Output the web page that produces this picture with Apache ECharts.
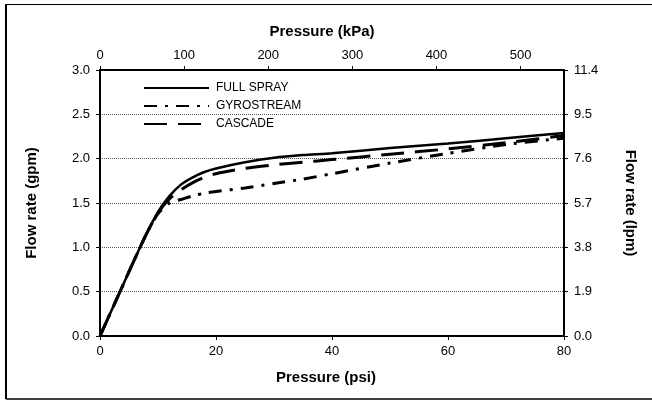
<!DOCTYPE html>
<html>
<head>
<meta charset="utf-8">
<script src="https://cdn.jsdelivr.net/npm/echarts@6/dist/echarts.min.js"></script>
<style>
html,body{margin:0;padding:0;background:#fff;}
#c{width:652px;height:400px;}
</style>
</head>
<body>
<div id="c"></div>
<script>
var psi = [0, 2, 4, 6, 8, 10, 12, 14, 16, 18, 20, 25, 30, 35, 40, 50, 60, 70, 80];
var fullSpray = [0, 0.29, 0.58, 0.87, 1.15, 1.40, 1.58, 1.71, 1.79, 1.85, 1.89, 1.96, 2.01, 2.04, 2.06, 2.12, 2.17, 2.23, 2.29];
var gyrostream = [0, 0.29, 0.58, 0.87, 1.15, 1.38, 1.50, 1.54, 1.58, 1.61, 1.63, 1.67, 1.72, 1.77, 1.83, 1.95, 2.06, 2.16, 2.23];
var cascade = [0, 0.29, 0.58, 0.87, 1.15, 1.39, 1.55, 1.65, 1.73, 1.79, 1.83, 1.89, 1.93, 1.96, 1.99, 2.05, 2.11, 2.18, 2.26];
var seriesNames = ['FULL SPRAY', 'GYROSTREAM', 'CASCADE'];
var psiTicks = [0, 80, 20];      // min, max, interval
var kpaTicks = [0, 551.6, 100];
var gpmTicks = [0, 3, 0.5];
var lpmTicks = [0, 11.4, 1.9];

function pairs(xs, ys) { return xs.map(function (x, i) { return [x, ys[i]]; }); }

var FONT = 'Liberation Sans, Arial, sans-serif';
var chart = echarts.init(document.getElementById('c'), null, {renderer: 'canvas'});

function ax(o) {
  var base = {
    type: 'value',
    axisLine: {show: true, onZero: false, lineStyle: {color: '#000', width: 2}},
    axisTick: {show: true, inside: false, length: 4, lineStyle: {color: '#000', width: 1}},
    axisLabel: {color: '#000', fontSize: 13, fontFamily: FONT},
    nameTextStyle: {color: '#000', fontSize: 15, fontWeight: 'bold', fontFamily: FONT},
    splitLine: {show: false}
  };
  Object.keys(o).forEach(function (k) {
    if (base[k] && typeof base[k] === 'object' && typeof o[k] === 'object' && !Array.isArray(o[k])) {
      base[k] = Object.assign({}, base[k], o[k]);
    } else {
      base[k] = o[k];
    }
  });
  return base;
}
function fmt1(v) { return v.toFixed(1); }

var option = {
  animation: false,
  backgroundColor: '#fff',
  grid: {left: 100, right: 88, top: 70, bottom: 64, containLabel: false},
  legend: {
    orient: 'vertical', left: 143, top: 82, padding: 0,
    itemWidth: 65, itemHeight: 10, itemGap: 6,
    itemStyle: {opacity: 0},
    textStyle: {color: '#000', fontSize: 12, fontFamily: FONT, padding: [0, 0, 0, 2]},
    data: seriesNames
  },
  xAxis: [
    ax({position: 'bottom', min: psiTicks[0], max: psiTicks[1], interval: psiTicks[2],
      name: 'Pressure (psi)', nameLocation: 'middle', nameGap: 34,
      nameTextStyle: {padding: [0, 12, 0, 0]},
      axisLabel: {margin: 9}}),
    ax({position: 'top', min: kpaTicks[0], max: kpaTicks[1], interval: kpaTicks[2],
      name: 'Pressure (kPa)', nameLocation: 'middle', nameGap: 31,
      nameTextStyle: {padding: [0, 20, 0, 0]},
      axisLabel: {margin: 8, showMaxLabel: false}})
  ],
  yAxis: [
    ax({position: 'left', min: gpmTicks[0], max: gpmTicks[1], interval: gpmTicks[2],
      name: 'Flow rate (gpm)', nameLocation: 'middle', nameGap: 61, nameRotate: 90,
      axisLabel: {margin: 10, formatter: fmt1},
      splitLine: {show: true, lineStyle: {color: '#555', type: [1, 1], width: 1}}}),
    ax({position: 'right', min: lpmTicks[0], max: lpmTicks[1], interval: lpmTicks[2],
      name: 'Flow rate (lpm)', nameLocation: 'middle', nameGap: 59, nameRotate: -90,
      axisLabel: {margin: 10, formatter: fmt1}})
  ],
  series: [
    {name: seriesNames[0], type: 'line', xAxisIndex: 0, yAxisIndex: 0, symbol: 'none', smooth: 0.25, z: 5,
      data: pairs(psi, fullSpray), lineStyle: {color: '#000', width: 2.5, type: 'solid'}, itemStyle: {color: '#000'}},
    {name: seriesNames[1], type: 'line', xAxisIndex: 0, yAxisIndex: 0, symbol: 'none', smooth: 0.25, z: 5,
      data: pairs(psi, gyrostream), lineStyle: {color: '#000', width: 3, type: [13, 8, 3, 8]}, itemStyle: {color: '#000'}},
    {name: seriesNames[2], type: 'line', xAxisIndex: 0, yAxisIndex: 0, symbol: 'none', smooth: 0.25, z: 5,
      data: pairs(psi, cascade), lineStyle: {color: '#000', width: 3, type: [23, 11]}, itemStyle: {color: '#000'}}
  ],
  graphic: [
    {type: 'line', shape: {x1: 6, y1: 4, x2: 6, y2: 399}, style: {stroke: '#000', lineWidth: 2}, silent: true},
    {type: 'line', shape: {x1: 6, y1: 4.5, x2: 652, y2: 4.5}, style: {stroke: '#000', lineWidth: 1}, silent: true},
    {type: 'line', shape: {x1: 6, y1: 399, x2: 652, y2: 399}, style: {stroke: '#000', lineWidth: 1.5}, silent: true}
  ]
};
chart.setOption(option);
</script>
</body>
</html>
